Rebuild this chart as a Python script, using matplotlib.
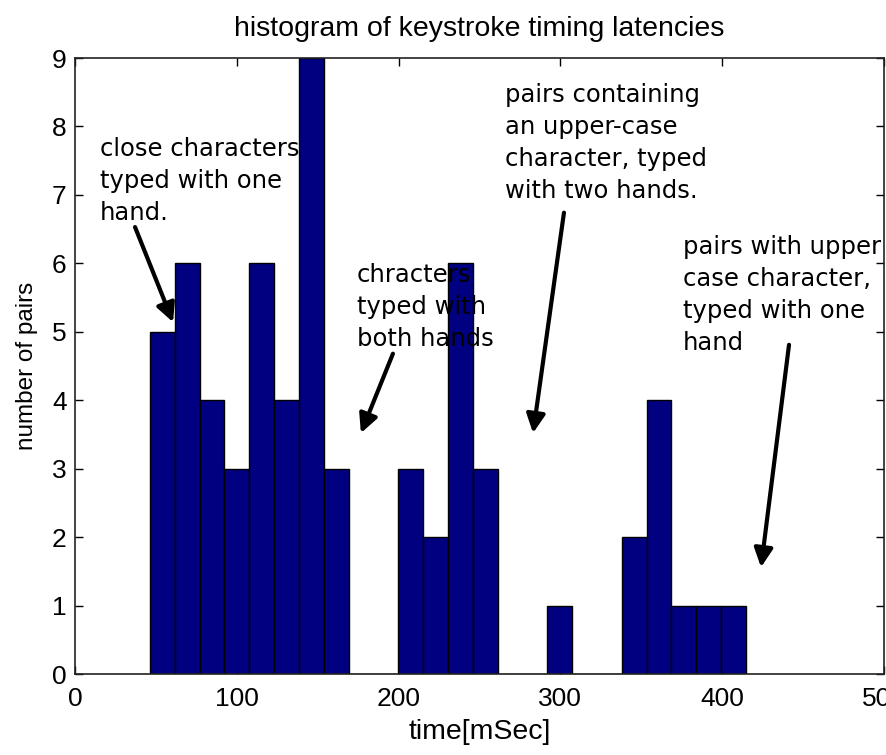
import numpy as np
import matplotlib
matplotlib.use("Agg")
import matplotlib.pyplot as plt
from matplotlib import font_manager

# ---- data ----
bin_low = 46.3
bin_high = 414.7
counts = [5, 6, 4, 3, 6, 4, 9, 3, 0, 0, 3, 2, 6, 3, 0, 0, 1, 0, 0, 2, 4, 1, 1, 1]
x_ticks = [0, 100, 200, 300, 400, 500]
y_ticks = list(range(0, 10))
title = "histogram of keystroke timing latencies"
xlabel = "time[mSec]"
ylabel = "number of pairs"
notes = [
    "close characters\ntyped with one\nhand.",
    "chracters\ntyped with\nboth hands",
    "pairs containing\nan upper-case\ncharacter, typed\nwith two hands.",
    "pairs with upper\ncase character,\ntyped with one\nhand",
]
note_xy = [(15.5, 7.85), (174.3, 6.0), (265.8, 8.63), (375.8, 6.41)]
arrow_tail = [(37.1, 6.53), (196.5, 4.68), (302.2, 6.74), (441.3, 4.81)]
arrow_tip = [(60.6, 5.14), (176.7, 3.52), (283.1, 3.52), (424.0, 1.56)]

names = {f.name for f in font_manager.fontManager.ttflist}
narrow = "Liberation Sans Narrow" if "Liberation Sans Narrow" in names else "Liberation Sans"

fig = plt.figure(figsize=(8.87, 7.55), dpi=100)
fig.patch.set_facecolor("white")
ax = fig.add_axes([75/887, 81/755, 809/887, 616/755])

edges = np.linspace(bin_low, bin_high, len(counts) + 1)
ax.bar(edges[:-1], counts, width=np.diff(edges), align="edge",
       color="#000080", edgecolor="black", linewidth=1.0, zorder=2)

ax.set_xlim(0, 500)
ax.set_ylim(0, 9)
ax.set_xticks(x_ticks)
ax.set_yticks(y_ticks)
ax.tick_params(direction="in", length=6, width=1, top=True, right=True,
               labelsize=19, colors="black")
ax.tick_params(axis="x", pad=9)
ax.tick_params(axis="y", pad=6)
for lab in ax.get_xticklabels() + ax.get_yticklabels():
    lab.set_family(narrow)
for s in ax.spines.values():
    s.set_linewidth(1.2)
    s.set_color("#222222")

ax.set_title(title, fontsize=20.5, family=narrow, pad=16)
ax.set_xlabel(xlabel, fontsize=20.5, family=narrow, labelpad=6)
ax.set_ylabel(ylabel, fontsize=17.5, family=narrow, labelpad=10)

for t, (x, y) in zip(notes, note_xy):
    ax.text(x, y, t, fontsize=17.5, family="DejaVu Sans", va="top", ha="left",
            linespacing=1.42, zorder=4, color="black")

for (tx, ty), (hx, hy) in zip(arrow_tail, arrow_tip):
    ax.annotate("", xy=(hx, hy), xytext=(tx, ty),
                arrowprops=dict(arrowstyle="-|>", lw=3, color="black",
                                mutation_scale=28, shrinkA=0, shrinkB=0),
                zorder=5)

fig.savefig("out.png", dpi=100, facecolor="white")
